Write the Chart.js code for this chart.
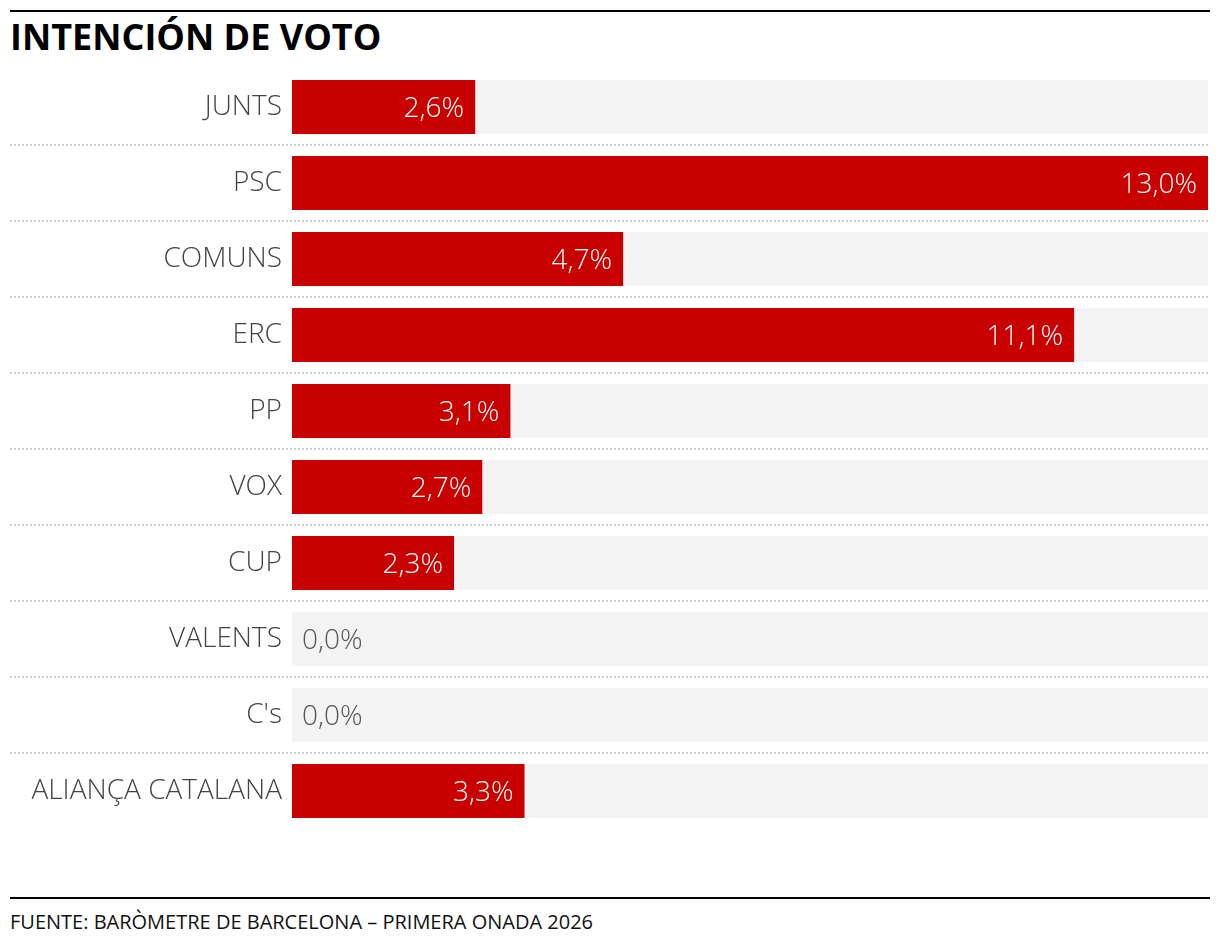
<!DOCTYPE html>
<html lang="es">
<head>
<meta charset="utf-8">
<title>Intención de voto</title>
<script src="https://cdn.jsdelivr.net/npm/chart.js@4.4.1/dist/chart.umd.min.js"></script>
<style>
  html, body { margin: 0; padding: 0; background: #fff; }
  body { width: 1220px; height: 946px; position: relative; font-family: 'Open Sans', sans-serif; }
  .rule { position: absolute; left: 10px; width: 1200px; height: 2px; background: #000; }
  #title {
    position: absolute; left: 10px; top: 13px; margin: 0;
    font-size: 36px; font-weight: 700; color: #000; line-height: 48px; letter-spacing: 0;
  }
  #chartBox { position: absolute; left: 10px; top: 69px; width: 1200px; height: 760px; }
  #source {
    position: absolute; left: 10px; top: 908px; margin: 0;
    font-size: 20px; font-weight: 400; color: #111; line-height: 28px;
  }
</style>
</head>
<body>
<div class="rule" style="top:10px"></div>
<h1 id="title">INTENCIÓN DE VOTO</h1>
<div id="chartBox"><canvas id="voteChart"></canvas></div>
<div class="rule" style="top:897px"></div>
<p id="source">FUENTE: BARÒMETRE DE BARCELONA – PRIMERA ONADA 2026</p>

<script>
'use strict';

const PARTIES = ['JUNTS', 'PSC', 'COMUNS', 'ERC', 'PP', 'VOX', 'CUP', 'VALENTS', "C's", 'ALIANÇA CATALANA'];
const VOTE_PCT = [2.6, 13.0, 4.7, 11.1, 3.1, 2.7, 2.3, 0.0, 0.0, 3.3];
const SCALE_MAX = 13.0;

const RED  = '#c80000';
const GREY = '#f3f3f3';
const LABEL_FONT = { family: "'Open Sans', sans-serif", size: 28, weight: '300' };

const fmtPct = v => v.toFixed(1).replace('.', ',') + '%';

// dotted separators between rows, full width of the canvas
const rowSeparators = {
  id: 'rowSeparators',
  beforeDatasetsDraw(chart) {
    const { ctx, scales: { y } } = chart;
    ctx.save();
    ctx.strokeStyle = '#d0d0d0';
    ctx.lineWidth = 2;
    ctx.setLineDash([2, 2]);
    for (let i = 0; i < PARTIES.length - 1; i++) {
      const yy = Math.round((y.getPixelForValue(i) + y.getPixelForValue(i + 1)) / 2);
      ctx.beginPath();
      ctx.moveTo(0, yy);
      ctx.lineTo(chart.width, yy);
      ctx.stroke();
    }
    ctx.restore();
  },
};

// value labels: white inside the bar, grey beside an empty one
const valueLabels = {
  id: 'valueLabels',
  afterDatasetsDraw(chart) {
    const { ctx } = chart;
    const meta = chart.getDatasetMeta(0);
    ctx.save();
    ctx.font = `${LABEL_FONT.weight} ${LABEL_FONT.size}px ${LABEL_FONT.family}`;
    ctx.textBaseline = 'middle';
    meta.data.forEach((bar, i) => {
      const v = VOTE_PCT[i];
      const txt = fmtPct(v);
      if (v > 0) {
        ctx.fillStyle = '#fff';
        ctx.textAlign = 'right';
        ctx.fillText(txt, bar.x - 11, bar.y + 2);
      } else {
        ctx.fillStyle = '#555';
        ctx.textAlign = 'left';
        ctx.fillText(txt, bar.base + 10, bar.y + 2);
      }
    });
    ctx.restore();
  },
};

new Chart(document.getElementById('voteChart'), {
  type: 'bar',
  data: {
    labels: PARTIES,
    datasets: [
      {
        data: VOTE_PCT,
        backgroundColor: RED,
        grouped: false,
        barPercentage: 54 / 76,
        categoryPercentage: 1,
      },
      {
        data: PARTIES.map(() => SCALE_MAX),
        backgroundColor: GREY,
        grouped: false,
        barPercentage: 54 / 76,
        categoryPercentage: 1,
      },
    ],
  },
  options: {
    indexAxis: 'y',
    responsive: true,
    maintainAspectRatio: false,
    animation: false,
    layout: { padding: { right: 2, top: 0, bottom: 0, left: 0 } },
    plugins: {
      legend: { display: false },
      tooltip: { enabled: false },
    },
    scales: {
      x: { display: false, min: 0, max: SCALE_MAX },
      y: {
        grid: { display: false, drawTicks: false },
        border: { display: false },
        ticks: { color: '#444', font: LABEL_FONT, padding: 10 },
        afterFit(scale) {
          scale.width = 282;
          scale.paddingTop = 0;
          scale.paddingBottom = 0;
        },
      },
    },
  },
  plugins: [rowSeparators, valueLabels],
});
</script>
</body>
</html>
